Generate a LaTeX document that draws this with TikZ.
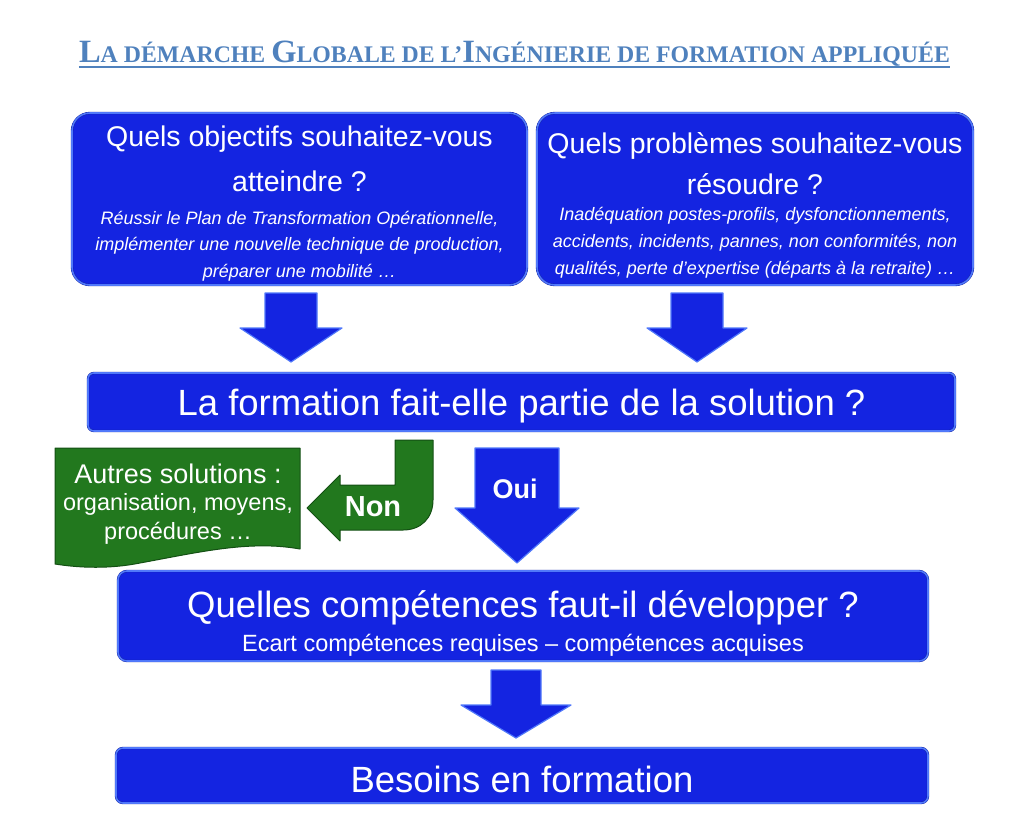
\documentclass[tikz,border=0pt]{standalone}
\usepackage{fontspec}
\setmainfont{Liberation Sans}
\newfontfamily\titlefont{Liberation Serif}
\usetikzlibrary{positioning}

\definecolor{titleblue}{RGB}{79,129,189}
\definecolor{boxblue}{RGB}{20,36,225}
\definecolor{rimblue}{RGB}{80,120,250}
\definecolor{darkblue}{RGB}{15,30,160}
\definecolor{boxgreen}{RGB}{34,120,30}
\definecolor{rimgreen}{RGB}{20,80,20}

% grandes capitales du titre
\newcommand{\bigsc}[1]{{\fontsize{32.5}{32.5}\selectfont #1}}
% fleche bloc vers le bas : x centre, haut, base de la pointe, bout, demi-tige, demi-pointe
\newcommand{\downblock}[6]{%
  \draw[arrowblue] (#1-#5,#2) -- (#1+#5,#2) -- (#1+#5,#3) -- (#1+#6,#3) -- (#1,#4)
    -- (#1-#6,#3) -- (#1-#5,#3) -- cycle;}

\tikzset{
  bluebox/.style={draw=darkblue, double=rimblue, double distance=1.6pt, fill=boxblue, inner sep=0pt},
  arrowblue/.style={draw=rimblue, line width=1.2pt, line join=round, fill=boxblue},
  bigtext/.style={text=white, align=center, inner sep=0pt},
}

\begin{document}
\begin{tikzpicture}[x=1pt,y=-1pt]
	\useasboundingbox (0,0) rectangle (1024,815);
	% titre
	\node[text=titleblue, inner sep=0pt, anchor=base,
		font=\titlefont\bfseries\fontsize{23.8}{23.8}\selectfont] (titre) at (514.5,62)
		{\bigsc{L}A DÉMARCHE \bigsc{G}LOBALE DE L’\bigsc{I}NGÉNIERIE DE FORMATION APPLIQUÉE};
	\draw[titleblue, line width=2pt] ([yshift=-4.5pt]titre.base west) -- ([yshift=-4.5pt]titre.base east);

	% les deux questions de depart
	\node[bluebox, rounded corners=18pt, minimum width=455pt, minimum height=172pt] (objectifs) at (299.5,199) {};
	\node[bigtext, font=\fontsize{28.5}{45}\selectfont] (objectifs-q) at (299.5,159)
		{Quels objectifs souhaitez-vous\\atteindre ?};
	\node[bigtext, font=\itshape\fontsize{18}{26.5}\selectfont] (objectifs-ex) at (299.5,246)
		{Réussir le Plan de Transformation Opérationnelle,\\implémenter une nouvelle technique de production,\\préparer une mobilité …};

	\node[bluebox, rounded corners=18pt, minimum width=436pt, minimum height=172pt] (problemes) at (755,199) {};
	\node[bigtext, font=\fontsize{28.5}{41}\selectfont] (problemes-q) at (755,164)
		{Quels problèmes souhaitez-vous\\résoudre ?};
	\node[bigtext, font=\itshape\fontsize{18}{27}\selectfont] (problemes-ex) at (755,243)
		{Inadéquation postes-profils, dysfonctionnements,\\accidents, incidents, pannes, non conformités, non\\qualités, perte d’expertise (départs à la retraite) …};

	\downblock{291}{293}{328}{362}{26}{51}
	\downblock{697}{293}{328}{362}{26}{50}

	% la formation est-elle la reponse
	\node[bluebox, rounded corners=6pt, minimum width=867pt, minimum height=58pt] (solution) at (521.5,402) {};
	\node[bigtext, font=\fontsize{36.5}{36.5}\selectfont] (solution-q) at (521.5,406)
		{La formation fait-elle partie de la solution ?};

	% branche non
	\draw[draw=rimgreen, line width=1pt, line join=round, fill=boxgreen]
		(55,448) -- (300,448) -- (300,549) .. controls (250,540) and (200,552) .. (140,563)
		.. controls (110,569) and (80,568) .. (55,564) -- cycle;
	\node[bigtext, font=\fontsize{27}{27}\selectfont] (autres) at (178,474) {Autres solutions :};
	\node[bigtext, font=\fontsize{23.5}{29}\selectfont] (autres-ex) at (178,519)
		{organisation, moyens,\\procédures …};
	\draw[draw=rimgreen, line width=1pt, line join=round, fill=boxgreen]
		(395,440) -- (433,440) -- (433,500) .. controls (433,518) and (421,530) .. (403,530)
		-- (340,530) -- (340,541) -- (307,508) -- (340,475) -- (340,485) -- (395,485) -- cycle;
	\node[bigtext, font=\bfseries\fontsize{29}{29}\selectfont] (non) at (373,507) {Non};

	% branche oui
	\downblock{517}{448}{508}{563}{42}{62}
	\node[bigtext, font=\bfseries\fontsize{27}{27}\selectfont] (oui) at (515,489) {Oui};

	% competences
	\node[bluebox, rounded corners=9pt, minimum width=810pt, minimum height=90pt] (competences) at (523,616) {};
	\node[bigtext, font=\fontsize{36.5}{36.5}\selectfont] (competences-q) at (523,608)
		{Quelles compétences faut-il développer ?};
	\node[bigtext, font=\fontsize{23.5}{23.5}\selectfont] (competences-ex) at (523,645)
		{Ecart compétences requises – compétences acquises};

	\downblock{516}{670}{705}{738}{25}{55}

	\node[bluebox, rounded corners=7pt, minimum width=812pt, minimum height=55pt] (besoins) at (522,775.5) {};
	\node[bigtext, font=\fontsize{36.5}{36.5}\selectfont] (besoins-t) at (522,779)
		{Besoins en formation};
\end{tikzpicture}
\end{document}
